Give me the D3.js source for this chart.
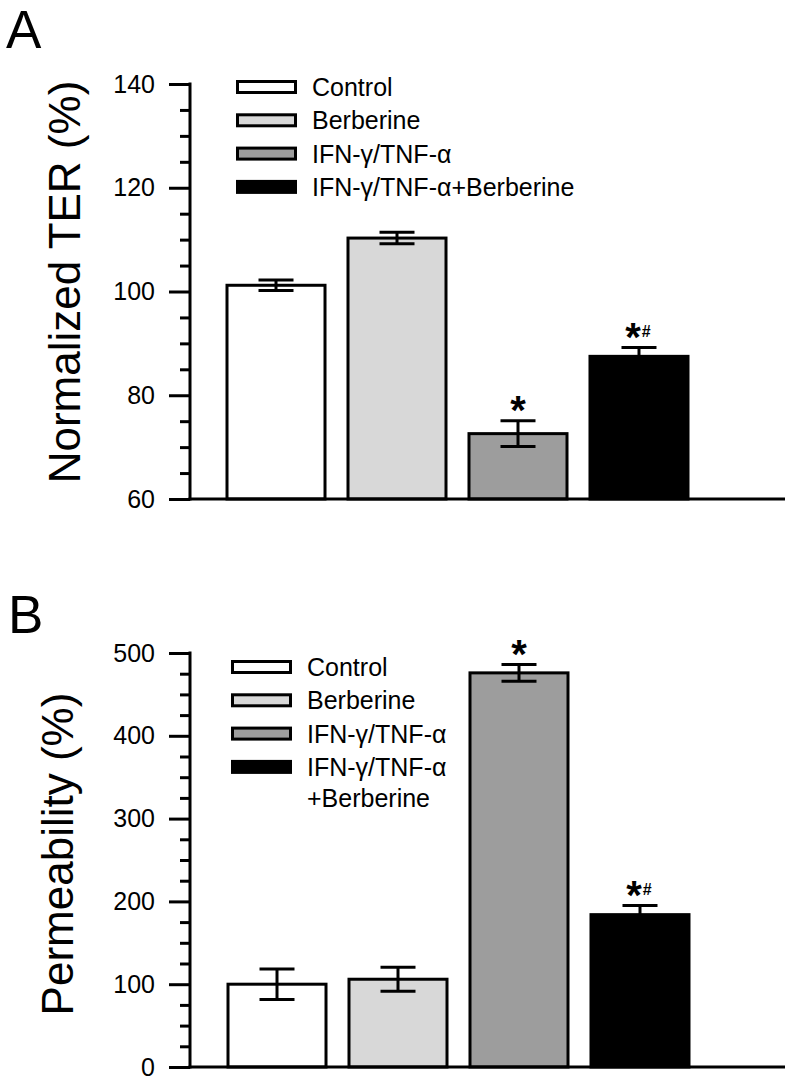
<!DOCTYPE html>
<html>
<head>
<meta charset="utf-8">
<script src="https://cdn.jsdelivr.net/npm/d3@7"></script>
<style>
  html, body { margin: 0; padding: 0; background: #fff; }
  svg { display: block; }
  text { font-family: "Liberation Sans", Arial, "DejaVu Sans", sans-serif; fill: #000; }
</style>
</head>
<body>
<svg id="chart" width="792" height="1086"></svg>
<script>
// ---- data ----
const categories = ["Control", "Berberine", "IFN-γ/TNF-α", "IFN-γ/TNF-α+Berberine"];
const barColors = ["#ffffff", "#d8d8d8", "#9d9d9d", "#000000"];
const annotations = ["", "", "*", "*#"];

const terValues = [101.2, 110.3, 72.6, 87.5];
const terErrors = [1.0, 1.1, 2.5, 1.7];
const terMajorTicks = [60, 80, 100, 120, 140];
const terMinorTicks = [65, 70, 75, 85, 90, 95, 105, 110, 115, 125, 130, 135];

const permValues = [100, 106, 476, 184];
const permErrors = [18.5, 14.5, 10, 11];
const permMajorTicks = [0, 100, 200, 300, 400, 500];
const permMinorTicks = [25, 50, 75, 125, 150, 175, 225, 250, 275, 325, 350, 375, 425, 450, 475];

const legendA = [["Control"], ["Berberine"], ["IFN-γ/TNF-α"], ["IFN-γ/TNF-α+Berberine"]];
const legendB = [["Control"], ["Berberine"], ["IFN-γ/TNF-α"], ["IFN-γ/TNF-α", "+Berberine"]];

const svg = d3.select("#chart");

function panel(opts) {
  const g = svg.append("g");
  const axisX = 190;
  const y = d3.scaleLinear().domain(opts.domain).range([opts.yBottom, opts.yTop]);
  const x = d3.scaleBand().domain(categories).range([opts.barStart, opts.barEnd])
    .paddingInner(0.19).paddingOuter(0);

  // bars
  g.selectAll("rect.bar").data(categories).join("rect")
    .attr("class", "bar")
    .attr("x", d => x(d))
    .attr("width", x.bandwidth())
    .attr("y", (d, i) => y(opts.values[i]))
    .attr("height", (d, i) => y(opts.domain[0]) - y(opts.values[i]))
    .attr("fill", (d, i) => barColors[i])
    .attr("stroke", "#000")
    .attr("stroke-width", 3);

  // error bars
  const capW = 35;
  categories.forEach((c, i) => {
    const cx = x(c) + x.bandwidth() / 2;
    const hi = y(opts.values[i] + opts.errors[i]);
    const lo = y(opts.values[i] - opts.errors[i]);
    g.append("line").attr("x1", cx).attr("x2", cx).attr("y1", hi).attr("y2", lo)
      .attr("stroke", "#000").attr("stroke-width", 3);
    [hi, lo].forEach(yy => {
      g.append("line").attr("x1", cx - capW / 2).attr("x2", cx + capW / 2)
        .attr("y1", yy).attr("y2", yy).attr("stroke", "#000").attr("stroke-width", 3);
    });
    // annotations
    const a = annotations[i];
    if (a) {
      const t = g.append("text")
        .attr("x", cx + (a.length > 1 ? -1 : 0)).attr("y", hi + 3)
        .attr("text-anchor", "middle")
        .style("font-weight", "bold");
      t.append("tspan").text("*").style("font-size", "40px");
      if (a.length > 1) {
        t.append("tspan").text("#").style("font-size", "16px")
          .attr("dx", 1).attr("dy", -14);
      }
    }
  });

  // axis line (y) and baseline (x)
  g.append("line").attr("x1", axisX).attr("x2", axisX)
    .attr("y1", opts.yTop - 1.5).attr("y2", opts.yBottom + 1.5)
    .attr("stroke", "#000").attr("stroke-width", 3);
  g.append("line").attr("x1", axisX - 1.5).attr("x2", 785)
    .attr("y1", opts.yBottom).attr("y2", opts.yBottom)
    .attr("stroke", "#000").attr("stroke-width", 3);

  // major ticks with labels
  const major = d3.axisLeft(y).tickValues(opts.majorTicks).tickSize(21).tickSizeOuter(0)
    .tickPadding(14).tickFormat(d3.format("d"));
  const ga = g.append("g").attr("transform", `translate(${axisX},0)`).call(major);
  ga.select(".domain").remove();
  ga.selectAll(".tick line").attr("stroke", "#000").attr("stroke-width", 3);
  ga.selectAll(".tick text").style("font-size", "25px")
    .style("font-family", "'Liberation Sans', Arial, sans-serif").attr("fill", "#000");

  const minor = d3.axisLeft(y).tickValues(opts.minorTicks).tickSize(10).tickSizeOuter(0)
    .tickFormat("");
  const gm = g.append("g").attr("transform", `translate(${axisX},0)`).call(minor);
  gm.select(".domain").remove();
  gm.selectAll(".tick line").attr("stroke", "#000").attr("stroke-width", 3);

  // y label
  g.append("text")
    .attr("transform", `translate(${opts.labelX},${opts.labelY}) rotate(-90)`)
    .attr("text-anchor", "middle")
    .style("font-size", "44px")
    .text(opts.yLabel);

  // panel letter
  g.append("text").attr("x", opts.letterX).attr("y", opts.letterY)
    .style("font-size", "53px").text(opts.letter);

  // legend
  const lg = g.append("g");
  opts.legend.forEach((lines, i) => {
    const cy = opts.legendY + i * opts.legendStep;
    lg.append("rect")
      .attr("x", opts.legendX + 1.5).attr("y", cy - 5.5)
      .attr("width", 58).attr("height", 11)
      .attr("fill", barColors[i]).attr("stroke", "#000").attr("stroke-width", 3);
    lines.forEach((ln, j) => {
      lg.append("text")
        .attr("x", opts.legendX + 76).attr("y", cy + 9 + j * 31)
        .style("font-size", "25px").text(ln);
    });
  });
}

panel({
  domain: [60, 140], yBottom: 499, yTop: 84,
  barStart: 227, barEnd: 688,
  values: terValues, errors: terErrors,
  majorTicks: terMajorTicks, minorTicks: terMinorTicks,
  yLabel: "Normalized TER (%)", labelX: 80, labelY: 282,
  letter: "A", letterX: 6, letterY: 48,
  legend: legendA, legendX: 236, legendY: 87, legendStep: 33.3
});

panel({
  domain: [0, 500], yBottom: 1067, yTop: 653,
  barStart: 228, barEnd: 689,
  values: permValues, errors: permErrors,
  majorTicks: permMajorTicks, minorTicks: permMinorTicks,
  yLabel: "Permeability (%)", labelX: 73, labelY: 854,
  letter: "B", letterX: 8, letterY: 633,
  legend: legendB, legendX: 231, legendY: 667, legendStep: 33.3
});
</script>
</body>
</html>
